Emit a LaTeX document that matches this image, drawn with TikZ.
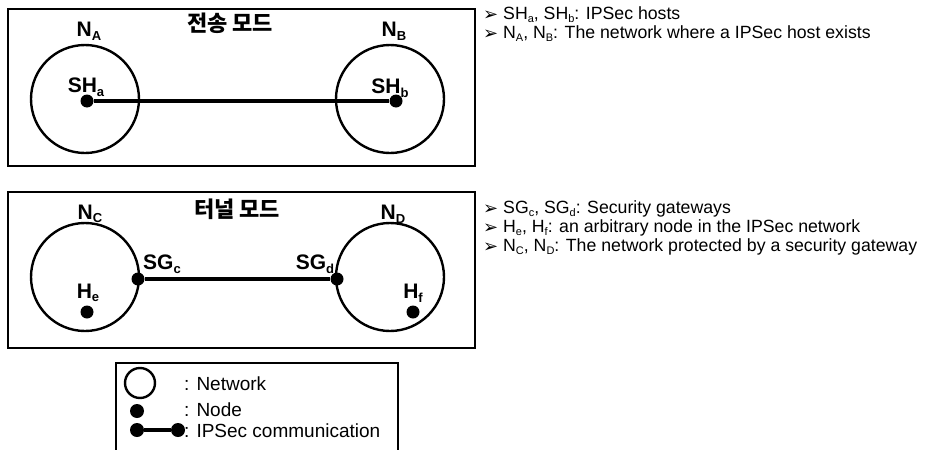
\documentclass[tikz,border=0pt]{standalone}
\usepackage{fontspec}
\setmainfont{Liberation Sans}
\newfontfamily\kofont{Noto Sans CJK KR}
\newfontfamily\dingfont{DejaVu Sans}
\usetikzlibrary{arrows}
\newcommand\lo[1]{\raisebox{-0.32ex}{\scalebox{0.62}{#1}}}
\newcommand\bul{\raisebox{-0.1ex}{\dingfont\fontsize{18}{18}\selectfont ➢}}

\begin{document}
\begin{tikzpicture}[x=1pt,y=-1pt,
  net/.style={draw,circle,line width=2.4pt,minimum size=108pt,inner sep=0pt},
  host/.style={fill,circle,minimum size=13pt,inner sep=0pt},
  link/.style={line width=3.6pt},
  lbl/.style={inner sep=0pt,font=\fontsize{21}{23}\selectfont\bfseries},
  title/.style={inner sep=0pt,font=\fontsize{22}{24}\selectfont\kofont\bfseries},
  note/.style={anchor=west,inner sep=0pt,font=\fontsize{17.7}{20}\selectfont},
  key/.style={anchor=west,inner sep=0pt,font=\fontsize{19}{21}\selectfont}]
\useasboundingbox (0,0) rectangle (927,450);

% frames
\draw[line width=1.2pt] (8,9) rectangle (475,166);
\draw[line width=1.2pt] (8,192) rectangle (475,348);
\draw[line width=1.2pt] (116,363) rectangle (398,460);

% transport mode
\node[net] (NA) at (85,99) {};
\node[net] (NB) at (390,99) {};
\node[host] (SHa) at (87,101) {};
\node[host] (SHb) at (396,101) {};
\draw[link] (SHa) -- (SHb);

\node[title] (T1) at (230,23) {전송 모드};
\node[lbl] (lNA) at (89,31) {N\lo{A}};
\node[lbl] (lNB) at (394,31) {N\lo{B}};
\node[lbl] (lSHa) at (86,87) {SH\lo{a}};
\node[lbl] (lSHb) at (390,88) {SH\lo{b}};

% tunnel mode
\node[net] (NC) at (85,277) {};
\node[net] (ND) at (390,277) {};
\node[host] (SGc) at (138,279) {};
\node[host] (SGd) at (337,279) {};
\node[host] (He) at (87,312) {};
\node[host] (Hf) at (413,312) {};
\draw[link] (SGc) -- (SGd);

\node[title] (T2) at (237,209) {터널 모드};
\node[lbl] (lNC) at (90,214) {N\lo{C}};
\node[lbl] (lND) at (393,214) {N\lo{D}};
\node[lbl] (lSGc) at (162,264) {SG\lo{c}};
\node[lbl] (lSGd) at (315,264) {SG\lo{d}};
\node[lbl] (lHe) at (88,293) {H\lo{e}};
\node[lbl] (lHf) at (413,293) {H\lo{f}};

% notes
\node[note] (n1) at (483,15) {\bul\ SH\lo{a}, SH\lo{b}: IPSec hosts};
\node[note] (n2) at (483,34) {\bul\ N\lo{A}, N\lo{B}: The network where a IPSec host exists};
\node[note] (n3) at (483,209) {\bul\ SG\lo{c}, SG\lo{d}: Security gateways};
\node[note] (n4) at (483,228) {\bul\ H\lo{e}, H\lo{f}: an arbitrary node in the IPSec network};
\node[note] (n5) at (483,247) {\bul\ N\lo{C}, N\lo{D}: The network protected by a security gateway};

% legend
\node[net,minimum size=30pt,line width=2.4pt] (K1) at (140,383) {};
\node[host,minimum size=14pt] (K2) at (137,411) {};
\node[host,minimum size=14pt] (K3) at (137,430) {};
\node[host,minimum size=14pt] (K4) at (178,430) {};
\draw[link] (K3) -- (K4);
\node[key] (k1) at (184,384) {: Network};
\node[key] (k2) at (184,410) {: Node};
\node[key] (k3) at (184,431) {: IPSec communication};
\end{tikzpicture}
\end{document}
